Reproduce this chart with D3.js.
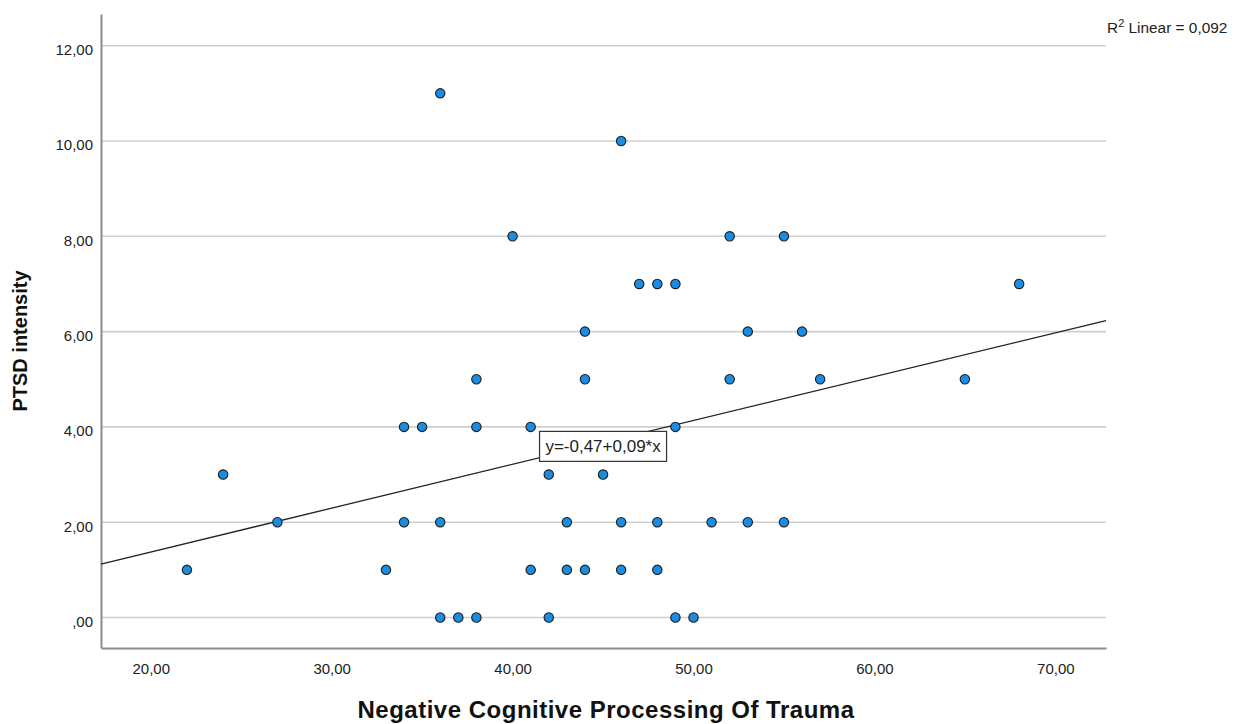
<!DOCTYPE html>
<html>
<head>
<meta charset="utf-8">
<script src="https://cdn.jsdelivr.net/npm/d3@7"></script>
<style>
  body { margin: 0; background: #fff; }
  svg { font-family: "Liberation Sans", Arial, sans-serif; }
  .grid line { stroke: #cfcfcf; stroke-width: 1.6; }
  .axis path { stroke: #8c8c8c; stroke-width: 2; }
  .axis text { fill: #222; font-size: 15px; }
  .dot { fill: #1a8ce2; stroke: #1c1c1c; stroke-width: 1.1; }
  .fit { stroke: #222; stroke-width: 1.3; fill: none; }
</style>
</head>
<body>
<div class="chart"></div>
<script>
// x: Negative Cognitive Processing Of Trauma, y: PTSD intensity
var negCog = [36, 46, 40, 52, 55, 47, 48, 49, 68, 44, 53, 56, 38, 44, 52, 57, 65,
  34, 35, 38, 41, 49, 24, 42, 45, 27, 34, 36, 43, 46, 48, 51, 53, 55,
  22, 33, 41, 43, 44, 46, 48, 36, 37, 38, 42, 49, 50];
var ptsd = [11, 10, 8, 8, 8, 7, 7, 7, 7, 6, 6, 6, 5, 5, 5, 5, 5,
  4, 4, 4, 4, 4, 3, 3, 3, 2, 2, 2, 2, 2, 2, 2, 2, 2,
  1, 1, 1, 1, 1, 1, 1, 0, 0, 0, 0, 0, 0];
var xTicks = [20, 30, 40, 50, 60, 70];
var yTicks = [0, 2, 4, 6, 8, 10, 12];
var fitIntercept = -0.465;
var fitSlope = 0.092;
var fitLabel = "y=-0,47+0,09*x";
var r2Value = "0,092";

function getChartOptions() {
  var chart = {};
  chart.margin = { top: 14, right: 129, bottom: 76, left: 101 };
  chart.width = 1235 - chart.margin.left - chart.margin.right;
  chart.height = 724 - chart.margin.top - chart.margin.bottom;
  chart.data = negCog.map((x, i) => ({ x: x, y: ptsd[i] }));
  chart.xScale = d3.scaleLinear().domain([17.25, 72.8]).range([0, chart.width]);
  chart.yScale = d3.scaleLinear().domain([-0.64, 12.665]).range([chart.height, 0]);
  var fmt = v => v.toFixed(2).replace(".", ",").replace(/^0,/, ",");
  chart.xAxis = d3.axisBottom(chart.xScale).tickValues(xTicks).tickFormat(fmt)
    .tickSizeInner(0).tickSizeOuter(0).tickPadding(15);
  chart.yAxis = d3.axisLeft(chart.yScale).tickValues(yTicks).tickFormat(fmt)
    .tickSizeInner(0).tickSizeOuter(0).tickPadding(8);
  chart.fit = x => fitIntercept + fitSlope * x;
  return chart;
}

function drawChart(chart) {
  var svg = d3.select(".chart").append("svg")
    .attr("width", 1235)
    .attr("height", 724)
    .append("g")
    .attr("transform", `translate(${chart.margin.left}, ${chart.margin.top})`);

  svg.append("g")
    .attr("class", "grid")
    .selectAll("line")
    .data(yTicks)
    .enter().append("line")
    .attr("x1", 0)
    .attr("x2", chart.width)
    .attr("y1", d => chart.yScale(d))
    .attr("y2", d => chart.yScale(d));

  svg.append("g")
    .attr("class", "x axis")
    .attr("transform", `translate(0, ${chart.height})`)
    .call(chart.xAxis);

  var yg = svg.append("g")
    .attr("class", "y axis")
    .call(chart.yAxis);
  yg.selectAll("text").attr("dy", "0.6em");

  var xd = chart.xScale.domain();
  svg.append("line")
    .attr("class", "fit")
    .attr("x1", chart.xScale(xd[0]))
    .attr("y1", chart.yScale(chart.fit(xd[0])))
    .attr("x2", chart.xScale(xd[1]))
    .attr("y2", chart.yScale(chart.fit(xd[1])));

  svg.selectAll(".dot")
    .data(chart.data)
    .enter().append("circle")
    .attr("class", "dot")
    .attr("cx", d => chart.xScale(d.x))
    .attr("cy", d => chart.yScale(d.y))
    .attr("r", 4.7);

  // equation box sitting on the fit line
  var lx = chart.xScale(45), ly = chart.yScale(chart.fit(45)) + 4;
  var lab = svg.append("g").attr("transform", `translate(${lx}, ${ly})`);
  lab.append("rect")
    .attr("x", -63.5)
    .attr("y", -15)
    .attr("width", 127)
    .attr("height", 30)
    .attr("fill", "#fff")
    .attr("stroke", "#333")
    .attr("stroke-width", 1.2);
  lab.append("text")
    .attr("text-anchor", "middle")
    .attr("dy", "0.35em")
    .attr("font-size", 17)
    .attr("fill", "#222")
    .text(fitLabel);

  // R² annotation
  var r2 = svg.append("text")
    .attr("x", chart.width + 1)
    .attr("y", 18.5)
    .attr("font-size", 15.4)
    .attr("fill", "#222");
  r2.append("tspan").text("R");
  r2.append("tspan").attr("dy", -6).attr("font-size", 11).text("2");
  r2.append("tspan").attr("dy", 6).text(" Linear = " + r2Value);

  svg.append("text")
    .attr("x", 606 - chart.margin.left)
    .attr("y", chart.height + 70)
    .attr("text-anchor", "middle")
    .attr("font-size", 24)
    .attr("font-weight", "bold")
    .attr("letter-spacing", 0.5)
    .attr("fill", "#111")
    .text("Negative Cognitive Processing Of Trauma");

  svg.append("text")
    .attr("transform", `translate(${-74}, ${327}) rotate(-90)`)
    .attr("text-anchor", "middle")
    .attr("font-size", 20)
    .attr("font-weight", "bold")
    .attr("fill", "#111")
    .text("PTSD intensity");
}

drawChart(getChartOptions());
</script>
</body>
</html>
